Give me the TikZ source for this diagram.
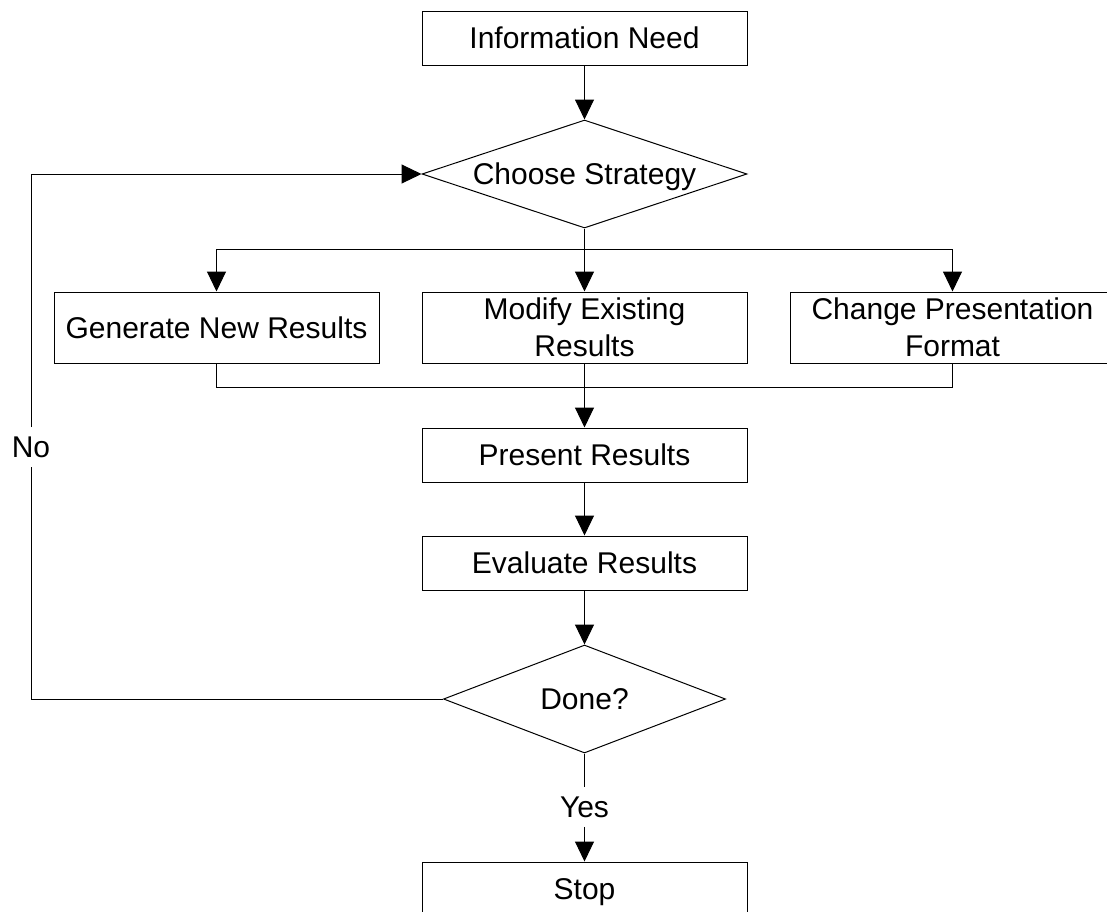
\documentclass[tikz,border=0pt]{standalone}
\usepackage{fontspec}
\setmainfont{Liberation Sans}
\usetikzlibrary{arrows.meta,shapes.geometric}

\tikzset{
  base/.style={draw=black, line width=1pt, inner sep=0pt,
    font=\fontsize{30}{36.7}\selectfont, text height=21.5pt, text depth=0pt,
    align=center},
  stepbox/.style={base, rectangle, minimum width=325pt, minimum height=54pt},
  tallbox/.style={base, rectangle, minimum width=325pt, minimum height=71pt},
  twolines/.style={text height=58.2pt},
  decision/.style={base, diamond, aspect=3},
  flow/.style={line width=1pt, draw=black},
  arrow/.style={flow, -{Triangle[length=20pt,width=19pt]}},
  tag/.style={font=\fontsize{30}{36}\selectfont, text height=21.5pt,
    text depth=0pt, inner xsep=2pt, inner ysep=9pt}
}

\begin{document}
\begin{tikzpicture}[x=1pt,y=-1pt]
  \useasboundingbox (0,0) rectangle (1107,911);
  \clip (0,0) rectangle (1107,911);

  % process steps and decisions
  \node[stepbox] (need) at (584.5,38) {Information Need};
  \node[decision, minimum width=325pt, minimum height=108pt] (choose) at (584.5,174) {Choose Strategy};
  \node[tallbox] (gen) at (216.5,327.5) {Generate New Results};
  \node[tallbox, twolines] (mod) at (584.5,327.5) {Modify Existing\\Results};
  \node[tallbox, twolines] (chg) at (952.5,327.5) {Change Presentation\\Format};
  \node[stepbox] (pres) at (584.5,455) {Present Results};
  \node[stepbox] (eval) at (584.5,563) {Evaluate Results};
  \node[decision, minimum width=282pt, minimum height=108pt] (done) at (584.5,699) {Done?};
  \node[stepbox] (stop) at (584.5,889) {Stop};

  % branch labels
  \node[tag] (no) at (31,447) {No};
  \node[tag] (yes) at (584.5,807) {Yes};

  % junction points of the fork and the merge
  \coordinate (fork) at (584.5,249);
  \coordinate (join) at (584.5,387);

  % connectors
  \draw[arrow] (need.south) -- (choose.north);
  \draw[arrow] (choose.south) -- (mod.north);
  \draw[arrow] (fork) -| (gen.north);
  \draw[arrow] (fork) -| (chg.north);
  \draw[flow] (gen.south) |- (join);
  \draw[flow] (chg.south) |- (join);
  \draw[arrow] (mod.south) -- (pres.north);
  \draw[arrow] (pres.south) -- (eval.north);
  \draw[arrow] (eval.south) -- (done.north);
  \draw[flow] (done.west) -| (no.south);
  \draw[arrow] (no.north) |- (choose.west);
  \draw[flow] (done.south) -- (yes.north);
  \draw[arrow] (yes.south) -- (stop.north);
\end{tikzpicture}
\end{document}
